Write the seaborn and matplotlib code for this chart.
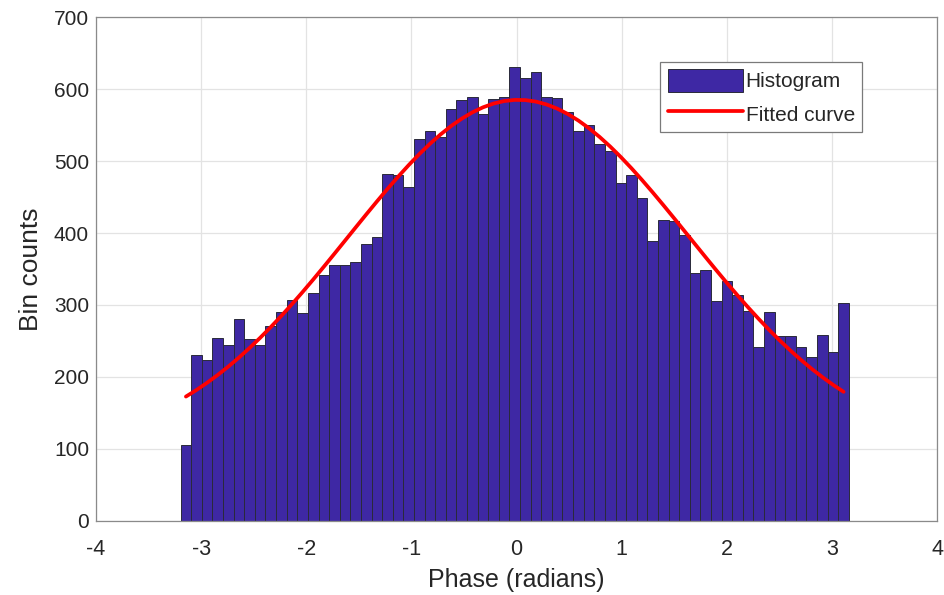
import numpy as np
import pandas as pd
import matplotlib
matplotlib.use("Agg")
import matplotlib.pyplot as plt
from matplotlib.patches import Patch
from matplotlib.lines import Line2D
import seaborn as sns

# Histogram of phase values: 63 bins spanning roughly [-pi, pi]
bin_left = -3.195
bin_width = 0.1009
bin_counts = [
    105, 230, 223, 254, 245, 280, 253, 245, 271, 290,
    307, 289, 317, 341, 356, 356, 360, 385, 395, 482,
    481, 464, 530, 541, 533, 572, 585, 589, 565, 586,
    589, 630, 615, 623, 589, 588, 568, 541, 550, 523,
    514, 470, 480, 448, 389, 418, 416, 397, 345, 349,
    306, 334, 314, 291, 242, 290, 257, 257, 241, 228,
    259, 235, 303,
]

# Fitted Gaussian (with constant offset) parameters
fit_offset = 100.0
fit_amplitude = 485.0
fit_center = 0.02
fit_sigma = 1.625

x_ticks = [-4, -3, -2, -1, 0, 1, 2, 3, 4]
y_ticks = [0, 100, 200, 300, 400, 500, 600, 700]

n_bins = len(bin_counts)
edges = bin_left + bin_width * np.arange(n_bins + 1)
centers = 0.5 * (edges[:-1] + edges[1:])
fitted = fit_offset + fit_amplitude * np.exp(-(centers - fit_center) ** 2 / (2 * fit_sigma ** 2))

df = pd.DataFrame({"phase": centers, "count": bin_counts, "fit": fitted})

sns.set_theme(style="whitegrid")
plt.rcParams["font.family"] = ["Liberation Sans", "DejaVu Sans"]

bar_color = "#3E28A4"
fig = plt.figure(figsize=(9.44, 5.95), dpi=100)
ax = fig.add_axes([0.1017, 0.1244, 0.8909, 0.8470])

sns.histplot(data=df, x="phase", weights="count",
             binwidth=bin_width, binrange=(edges[0], edges[-1]), ax=ax,
             color=bar_color, edgecolor="#2a2a3a", linewidth=0.7, alpha=1.0)
sns.lineplot(data=df, x="phase", y="fit", ax=ax, color="#FF0000", linewidth=2.7)

ax.set_xlim(-4, 4)
ax.set_ylim(0, 700)
ax.set_xticks(x_ticks)
ax.set_yticks(y_ticks)
ax.set_xticklabels([str(t) for t in x_ticks])
ax.set_yticklabels([str(t) for t in y_ticks])
ax.set_xlabel("Phase (radians)", fontsize=18, color="#262626", labelpad=6)
ax.set_ylabel("Bin counts", fontsize=19, color="#262626", labelpad=8)
ax.tick_params(axis="both", colors="#262626", direction="in", length=3)
ax.tick_params(axis="x", labelsize=15.5, pad=13)
ax.tick_params(axis="y", labelsize=15, pad=5)
ax.grid(True, color="#e3e3e3", linewidth=0.9)
ax.set_axisbelow(True)
for side in ["left", "right", "top", "bottom"]:
    ax.spines[side].set_visible(True)
    ax.spines[side].set_color("#8a8a8a")
    ax.spines[side].set_linewidth(0.9)

handles = [
    Patch(facecolor=bar_color, edgecolor="#2a2a3a", linewidth=0.7),
    Line2D([0], [0], color="#FF0000", linewidth=2.7),
]
leg = ax.legend(handles, ["Histogram", "Fitted curve"], loc="upper left",
                bbox_to_anchor=(0.671, 0.911), fontsize=15, frameon=True,
                fancybox=False, framealpha=1.0, edgecolor="#7a7a7a",
                handlelength=3.6, handleheight=1.3, handletextpad=0.15,
                borderpad=0.35, labelspacing=0.5, borderaxespad=0.0)
leg.get_frame().set_linewidth(0.9)

fig.savefig("out.png", dpi=100)
